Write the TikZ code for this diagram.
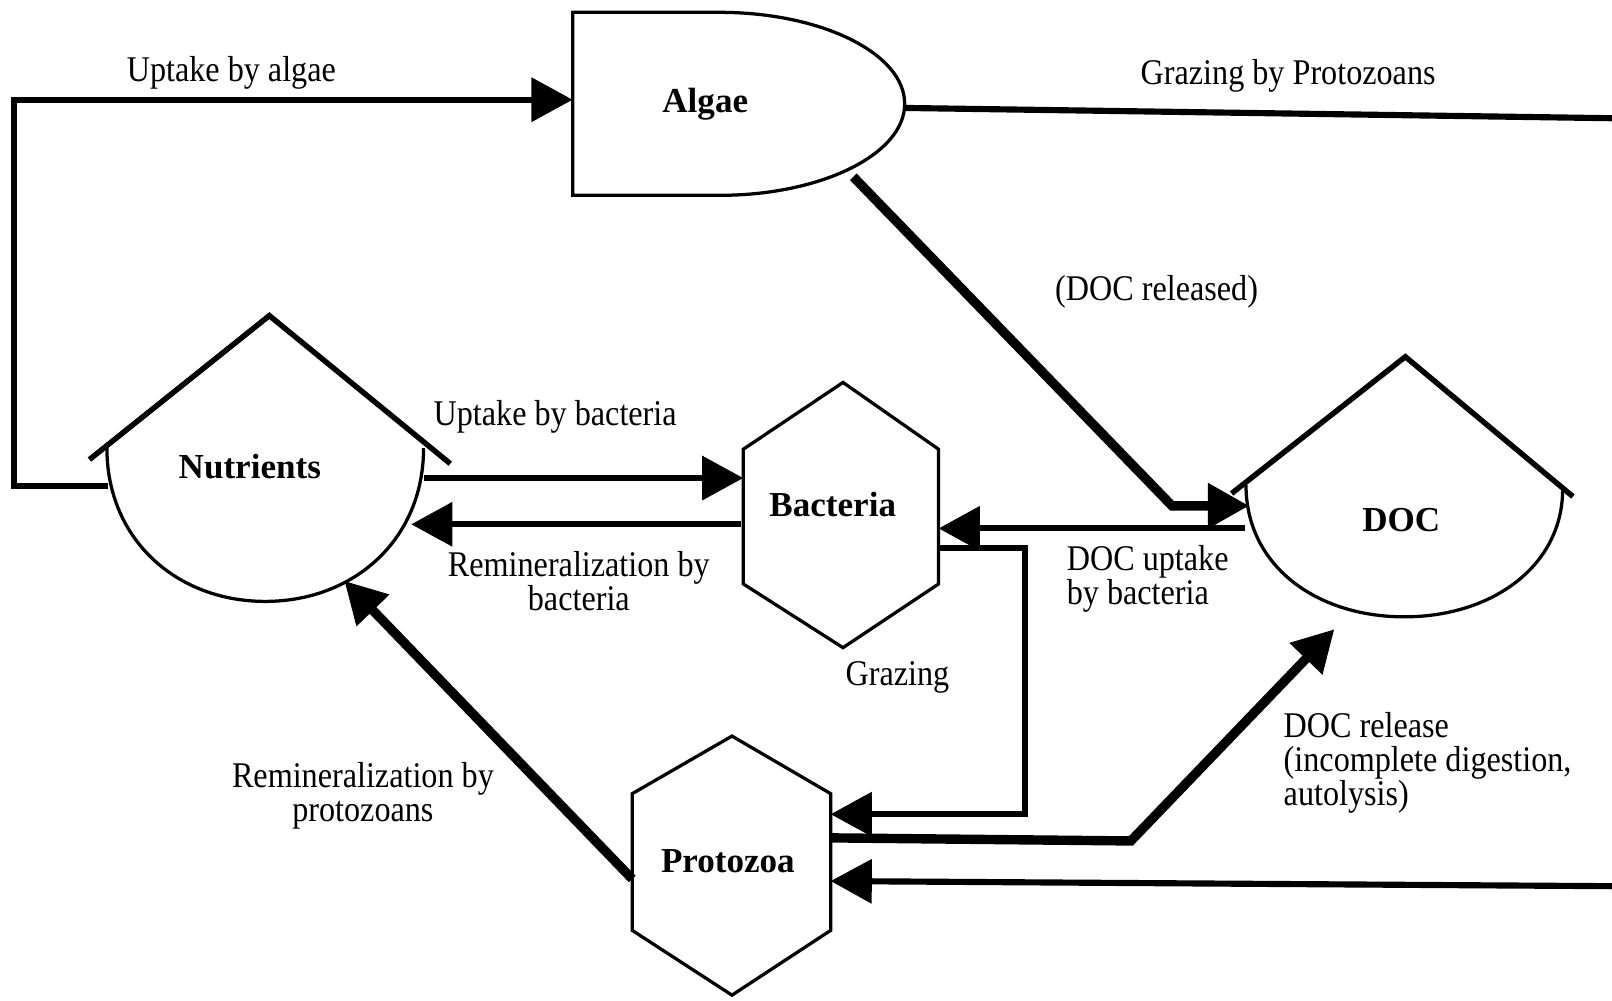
\documentclass[tikz,border=0pt]{standalone}
\usepackage{fontspec}
\setmainfont{Liberation Serif}[FakeStretch=0.89]
\newfontfamily\namefont{Liberation Serif}
\usetikzlibrary{arrows.meta}
\begin{document}
\begin{tikzpicture}[x=0.01cm,y=-0.01cm,
  flow/.style={line width=1.7pt, line join=miter, -{Triangle[length=0.4cm,width=0.42cm]}},
  flowheavy/.style={flow, line width=2.6pt},
  plain/.style={line width=1.7pt, line join=miter},
  outline/.style={line width=0.9pt},
  roof/.style={line width=1.5pt},
  lbl/.style={font=\fontsize{10}{9.4}\selectfont, inner sep=0pt, align=center},
  pool/.style={font=\namefont\bfseries\fontsize{9.7}{12}\selectfont, inner sep=0pt}
]
\useasboundingbox (0,0) rectangle (1568,973);

% ---------- compartments ----------
% Algae (D-shaped box)
\draw[outline] (557,12) -- (700,12) .. controls (799,12) and (880,52) .. (880,101)
  .. controls (880,150) and (799,190) .. (700,190) -- (557,190) -- cycle;
\node[pool] (algae) at (686,101) {Algae};

% Nutrients (roof over a bowl)
\draw[roof] (87,447) -- (262,307) -- (438,451);
\draw[outline] (104,436) .. controls (104,525) and (172,585) .. (258,585)
  .. controls (344,585) and (412,525) .. (412,436);
\node[pool] (nutrients) at (243,454) {Nutrients};

% DOC (roof over a bowl)
\draw[roof] (1198,480) -- (1367,347) -- (1530,483);
\draw[outline] (1212,472) .. controls (1212,550) and (1280,600) .. (1366,600)
  .. controls (1452,600) and (1520,550) .. (1520,476);
\node[pool] (doc) at (1363,506) {DOC};

% Bacteria (hexagon)
\draw[outline] (820,372) -- (913,437) -- (913,568) -- (820,630) -- (723,568) -- (723,437) -- cycle;
\node[pool] (bacteria) at (810,491) {Bacteria};

% Protozoa (hexagon)
\draw[outline] (712,716) -- (808,772) -- (808,905) -- (712,968) -- (615,905) -- (615,772) -- cycle;
\node[pool] (protozoa) at (708,838) {Protozoa};

% ---------- attachment points ----------
\coordinate (nut-w)   at (105,473);
\coordinate (nut-e)   at (412,465);
\coordinate (nut-ein) at (400,510);
\coordinate (nut-s)   at (335,565);
\coordinate (alg-w)   at (557,97);
\coordinate (alg-e)   at (880,105);
\coordinate (alg-se)  at (830,172);
\coordinate (bac-w1)  at (723,465);
\coordinate (bac-w2)  at (721,510);
\coordinate (bac-e1)  at (913,514);
\coordinate (bac-e2)  at (913,533);
\coordinate (doc-w)   at (1211,514);
\coordinate (doc-nw)  at (1215,492);
\coordinate (doc-s)   at (1298,612);
\coordinate (pro-e1)  at (808,792);
\coordinate (pro-e2)  at (808,815);
\coordinate (pro-e3)  at (808,857);
\coordinate (pro-w)   at (615,855);
\coordinate (edge-top) at (1568,115);
\coordinate (edge-bot) at (1568,862);

% ---------- fluxes ----------
\draw[flow] (nut-w) -- (14,473) -- (14,97) -- (alg-w);
\draw[plain] (alg-e) -- (edge-top);
\draw[flow] (edge-bot) -- (pro-e3);
\draw[flowheavy] (alg-se) -- (1140,492) -- (doc-nw);
\draw[flow] (nut-e) -- (bac-w1);
\draw[flow] (bac-w2) -- (nut-ein);
\draw[flow] (doc-w) -- (bac-e1);
\draw[flow] (bac-e2) -- (997,533) -- (997,792) -- (pro-e1);
\draw[flowheavy] (pro-e2) -- (1100,818) -- (doc-s);
\draw[flowheavy] (pro-w) -- (nut-s);

% ---------- labels ----------
\node[lbl] (l-upalg) at (225,71) {Uptake by algae};
\node[lbl] (l-graz1) at (1253,74) {Grazing by Protozoans};
\node[lbl] (l-docrel) at (1125,284) {(DOC released)};
\node[lbl] (l-upbac) at (540,405) {Uptake by bacteria};
\node[lbl] (l-rembac) at (563,565) {Remineralization by\\bacteria};
\node[lbl, align=left, anchor=north west] (l-docup) at (1037,530) {DOC uptake\\by bacteria};
\node[lbl] (l-graz2) at (873,659) {Grazing};
\node[lbl] (l-rempro) at (353,774) {Remineralization by\\protozoans};
\node[lbl, align=left, anchor=north west] (l-docrl) at (1248,692) {DOC release\\(incomplete digestion,\\autolysis)};
\end{tikzpicture}
\end{document}
